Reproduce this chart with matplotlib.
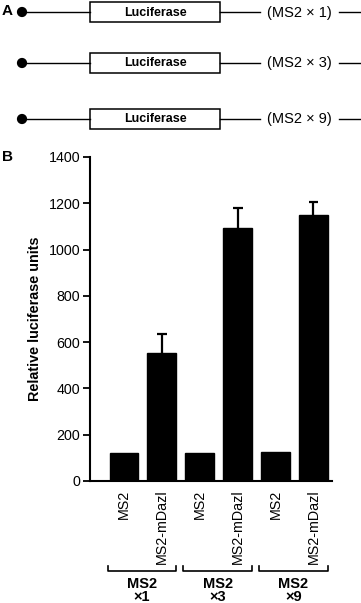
import matplotlib
matplotlib.use("Agg")
import matplotlib.pyplot as plt
from matplotlib.patches import Rectangle, Circle
import numpy as np

plt.rcParams["font.family"] = ["Liberation Sans", "DejaVu Sans"]

# data
constructs = ["(MS2 \u00d7 1)", "(MS2 \u00d7 3)", "(MS2 \u00d7 9)"]
bar_labels = ["MS2", "MS2-mDazl", "MS2", "MS2-mDazl", "MS2", "MS2-mDazl"]
values = [122, 555, 122, 1092, 127, 1150]
errors = [0, 80, 0, 89, 0, 57]
group_names = ["MS2", "MS2", "MS2"]
group_mult = ["\u00d71", "\u00d73", "\u00d79"]
yticks = [0, 200, 400, 600, 800, 1000, 1200, 1400]

W, H = 361, 603
fig = plt.figure(figsize=(W / 100, H / 100), dpi=100)

# panel A: construct diagrams, drawn in pixel coords
pa = fig.add_axes([0, 0, 1, 1])
pa.set_xlim(0, W); pa.set_ylim(H, 0); pa.axis("off")
row_y = [12, 63, 119]
for yy, lab in zip(row_y, constructs):
    pa.add_patch(Circle((22, yy), 4.4, color="black"))
    pa.plot([22, 90], [yy, yy], color="black", lw=1.0)
    pa.add_patch(Rectangle((90, yy - 10), 130, 20, fill=False, ec="black", lw=1.1))
    pa.text(155, yy + 0.5, "Luciferase", ha="center", va="center", fontsize=9, fontweight="bold")
    pa.plot([220, 260], [yy, yy], color="black", lw=1.0)
    pa.text(267, yy + 0.5, lab, ha="left", va="center", fontsize=10.5)
    pa.plot([339, 360], [yy, yy], color="black", lw=1.0)
pa.text(2, 11, "A", ha="left", va="center", fontsize=11, fontweight="bold")
pa.text(2, 157, "B", ha="left", va="center", fontsize=11, fontweight="bold")

# panel B: bar chart
ax = fig.add_axes([90 / W, 1 - 481 / H, 242 / W, 324 / H])
x = np.arange(len(values))
ax.bar(x, values, width=0.76, color="black", edgecolor="black")
for i, (v, e) in enumerate(zip(values, errors)):
    if e > 0:
        ax.vlines(i, v, v + e, color="black", lw=1.6)
        ax.hlines(v + e, i - 0.13, i + 0.13, color="black", lw=1.6)
ax.set_ylim(0, 1400)
ax.set_xlim(-0.895, 5.49)
ax.set_yticks(yticks)
ax.set_xticks(x)
ax.set_xticklabels(bar_labels, rotation=90, fontsize=10.3, va="top")
ax.tick_params(axis="x", length=0, pad=6)
ax.tick_params(axis="y", length=5, width=1.3, labelsize=10.3, pad=2)
for s in ["top", "right"]:
    ax.spines[s].set_visible(False)
for s in ["left", "bottom"]:
    ax.spines[s].set_linewidth(1.5)
ax.set_ylabel("Relative luciferase units", fontsize=10.4, fontweight="bold")
ax.yaxis.set_label_coords(-0.2, 0.5)

# group brackets under the tick labels
tr = ax.get_xaxis_transform()
for g, (nm, mult) in enumerate(zip(group_names, group_mult)):
    x0, x1 = 2 * g - 0.43, 2 * g + 1.38
    ax.plot([x0, x0, x1, x1], [-0.262, -0.277, -0.277, -0.262], transform=tr,
            color="black", lw=1.2, clip_on=False)
    xc = (x0 + x1) / 2
    ax.text(xc, -0.319, nm, transform=tr, ha="center", va="center",
            fontsize=10.5, fontweight="bold")
    ax.text(xc, -0.358, mult, transform=tr, ha="center", va="center",
            fontsize=10.5, fontweight="bold")

fig.savefig("out.png", dpi=100)
